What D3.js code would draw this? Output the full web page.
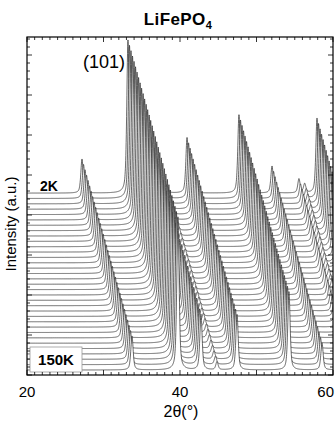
<!DOCTYPE html>
<html><head><meta charset="utf-8">
<script src="https://cdn.jsdelivr.net/npm/d3@7"></script>
<style>body{margin:0;background:#fff} svg{display:block}</style>
</head><body>
<script>
// ---- data ----
const temperatures = [2,4,6,8,10,12,14,16,18,20,25,30,35,40,45,50,55,60,65,70,75,80,85,90,95,100,105,110,115,120,125,130,140,150];
// Bragg peaks of the 2K pattern (2θ in degrees) and their heights (a.u.)
const peakPositions = [27.19, 33.20, 36.21, 38.30, 40.92, 47.71, 52.03, 55.55, 56.30, 57.91];
const peakHeights   = [340, 1530, 555, 80, 555, 785, 270, 140, 90, 750];
const backgroundLevel = 50;
const xTickLabels = [20, 40, 60];
const labelTop = "2K", labelBottom = "150K", peakLabel = "(101)";

// ---- layout ----
const W = 335, H = 425;
const L = 27, R = 333, T = 37, B = 375;
const stepX = 0.198;   // horizontal shift per pattern (deg)
const stepY = 53.6;    // vertical shift per pattern (a.u.)
const fwhm = 0.36, eta = 0.55;

const svg = d3.select("body").append("svg").attr("width", W).attr("height", H)
  .style("font-family", "'Liberation Sans', Arial, Helvetica, sans-serif");

const x = d3.scaleLinear().domain([20, 60]).range([L, R]);
const y = d3.scaleLinear().domain([0, 3380]).range([B, T]);

svg.append("defs").append("clipPath").attr("id", "clip")
  .append("rect").attr("x", L).attr("y", T).attr("width", R - L).attr("height", B - T);

function profile(tt) {
  let s = backgroundLevel;
  const hw = fwhm / 2;
  for (let i = 0; i < peakPositions.length; i++) {
    const d = tt - peakPositions[i];
    const g = Math.exp(-Math.LN2 * (d / hw) * (d / hw));
    const l = 1 / (1 + (d / hw) * (d / hw));
    s += peakHeights[i] * ((1 - eta) * g + eta * l);
  }
  return s;
}
const grid = d3.range(12.5, 61.01, 0.02);
const pattern = grid.map(t => ({ t, v: profile(t) }));

const n = temperatures.length;
const gTr = svg.append("g").attr("clip-path", "url(#clip)");
temperatures.forEach((temp, k) => {
  const dx = k * stepX, dy = (n - 1 - k) * stepY;
  const area = d3.area().x(d => x(d.t + dx)).y0(B + 2).y1(d => y(d.v + dy));
  const line = d3.line().x(d => x(d.t + dx)).y(d => y(d.v + dy));
  gTr.append("path").datum(pattern).attr("d", area).attr("fill", "#fff");
  gTr.append("path").datum(pattern).attr("d", line).attr("fill", "none")
    .attr("stroke", "#262626").attr("stroke-width", 0.7);
});

// labels inside plot
svg.append("text").attr("x", 40).attr("y", 191).attr("font-size", 14).attr("font-weight", "bold").text(labelTop);
svg.append("rect").attr("x", 30).attr("y", 347).attr("width", 52).attr("height", 25)
  .attr("fill", "#fff").attr("stroke", "#999").attr("stroke-width", 0.8);
svg.append("text").attr("x", 56).attr("y", 365).attr("text-anchor", "middle").attr("font-size", 15)
  .attr("font-weight", "bold").text(labelBottom);
svg.append("text").attr("x", 125).attr("y", 68).attr("text-anchor", "end").attr("font-size", 18).text(peakLabel);

// frame & ticks
svg.append("rect").attr("x", L).attr("y", T).attr("width", R - L).attr("height", B - T)
  .attr("fill", "none").attr("stroke", "#000").attr("stroke-width", 1.2);
const tk = svg.append("g").attr("stroke", "#000").attr("stroke-width", 0.8);
d3.range(20, 60.01, 1).forEach(v => {
  const len = v % 10 === 0 ? 5 : 3;
  tk.append("line").attr("x1", x(v)).attr("x2", x(v)).attr("y1", B).attr("y2", B - len);
  tk.append("line").attr("x1", x(v)).attr("x2", x(v)).attr("y1", T).attr("y2", T + len);
});
d3.range(0, 3380, 80).forEach((v, i) => {
  const len = i % 5 === 0 ? 5 : 3;
  tk.append("line").attr("x1", L).attr("x2", L + len).attr("y1", y(v)).attr("y2", y(v));
  tk.append("line").attr("x1", R).attr("x2", R - len).attr("y1", y(v)).attr("y2", y(v));
});
xTickLabels.forEach((v, i) => {
  const last = i === xTickLabels.length - 1;
  svg.append("text").attr("x", last ? W - 1 : x(v)).attr("y", 397)
    .attr("text-anchor", last ? "end" : "middle").attr("font-size", 15).text(v);
});

// titles
const title = svg.append("text").attr("x", 178).attr("y", 25).attr("text-anchor", "middle")
  .attr("font-size", 17).attr("font-weight", "bold").attr("letter-spacing", 0.4);
title.append("tspan").text("LiFePO");
title.append("tspan").attr("font-size", 11).attr("dy", 4).text("4");
svg.append("text").attr("x", 181).attr("y", 417).attr("text-anchor", "middle").attr("font-size", 16).text("2θ(°)");
svg.append("text").attr("transform", "translate(16,224) rotate(-90)").attr("text-anchor", "middle")
  .attr("font-size", 15).text("Intensity (a.u.)");
</script>
</body></html>
